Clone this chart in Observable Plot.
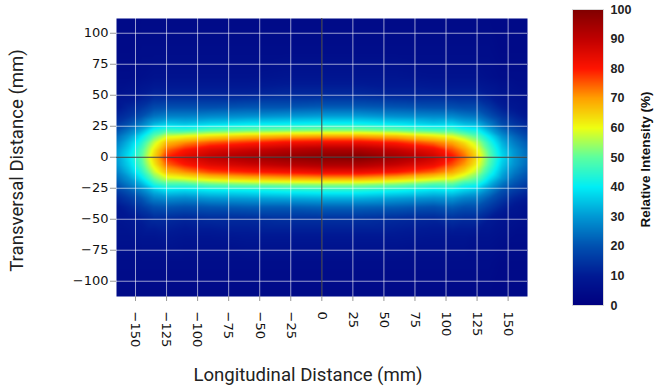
<!DOCTYPE html>
<html><head><meta charset="utf-8">
<script src="https://cdn.jsdelivr.net/npm/d3@7"></script>
<script src="https://cdn.jsdelivr.net/npm/@observablehq/plot@0.6"></script>
<style>
html,body{margin:0;padding:0;background:#fff;}
#wrap{position:relative;width:657px;height:388px;overflow:hidden;}
#main{position:absolute;left:0;top:0;}
#bar{position:absolute;left:540px;top:0;}
</style></head><body>
<div id="wrap"><div id="main"></div><div id="bar"></div></div>
<script>
// Longitudinal sample positions (mm)
const xPositions = [-166, -155, -145, -135, -125, -110, -90, -60, -30, 0, 30, 60, 90, 105, 115, 125, 135, 145, 155, 166];
// Transversal sample positions (mm)
const yPositions = [113, 85, 65, 50, 40, 33, 27, 22, 17, 12, 6, 0, -6, -12, -17, -22, -27, -33, -40, -50, -65, -85, -113];
const intensity = [
  [4,4,4,4,4,4,4,4,4,4,4,4,4,4,4,4,4,4,4,4],
  [4,4,5,5,5,5,5,5,5,5,5,5,5,5,5,5,5,4,4,4],
  [5,5,6,7,7,7,7,7,8,8,8,8,7,7,7,7,6,5,5,5],
  [7,8,10,12,12,12,12,12,13,13,13,12,12,12,12,12,10,8,7,6],
  [9,12,15,19,20,20,20,21,21,22,22,21,20,20,19,19,15,11,9,7],
  [12,15,20,25,27,27,28,29,30,31,31,29,28,28,26,25,20,15,12,9],
  [15,20,26,33,36,35,37,39,40,41,41,39,36,37,34,33,26,19,15,12],
  [19,25,32,42,46,45,48,50,51,52,52,50,47,47,43,41,32,24,19,15],
  [23,30,39,50,58,60,63,66,68,69,69,67,62,59,54,49,39,29,23,18],
  [26,34,44,57,67,71,75,78,81,82,82,79,73,69,63,56,44,33,26,21],
  [29,37,48,62,74,80,85,88,91,93,93,89,83,76,70,61,48,36,29,23],
  [30,39,50,65,79,85,90,94,97,99,100,95,88,81,74,64,50,38,30,24],
  [29,37,48,62,74,80,85,88,91,93,93,89,83,76,70,61,48,36,29,23],
  [26,34,44,57,67,71,76,79,81,83,83,80,74,69,63,56,44,33,26,21],
  [23,30,39,51,58,60,64,67,69,70,70,67,62,60,55,50,39,30,23,19],
  [20,26,33,43,47,47,50,52,53,54,54,52,48,49,44,42,33,25,20,16],
  [16,21,27,34,38,37,39,40,42,43,43,41,38,39,36,34,27,20,16,13],
  [12,16,21,27,29,28,30,31,32,33,33,31,29,30,27,26,21,16,12,10],
  [9,12,16,20,21,20,21,22,22,23,23,22,20,22,20,20,16,12,9,7],
  [8,9,11,13,13,12,13,13,14,14,14,13,12,14,13,13,10,8,7,6],
  [7,7,8,8,9,8,8,9,9,9,9,9,8,8,8,7,7,6,5,5],
  [5,5,5,5,5,5,5,5,5,5,5,5,5,5,5,5,5,4,4,4],
  [4,4,4,4,4,4,4,4,4,4,4,4,4,4,4,4,4,4,4,4]
];
const xTicks = [-150, -125, -100, -75, -50, -25, 0, 25, 50, 75, 100, 125, 150];
const yTicks = [-100, -75, -50, -25, 0, 25, 50, 75, 100];
const barTicks = [0, 10, 20, 30, 40, 50, 60, 70, 80, 90, 100];
const xLabel = "Longitudinal Distance (mm)";
const yLabel = "Transversal Distance (mm)";
const barLabel = "Relative Intensity (%)";

// jet-like colour map as used in the figure
const colorDomain = [0, 10, 20, 30, 40, 50, 60, 70, 80, 90, 100];
const colorRange = ["#000080", "#001a94", "#0050b0", "#0098d4", "#00eef6", "#5cffa0", "#eeff12", "#ffa000", "#ff1400", "#c00000", "#800000"];
const colorScale = {type: "linear", domain: colorDomain, range: colorRange, interpolate: "rgb", clamp: true};

const points = [];
yPositions.forEach((y, i) => xPositions.forEach((x, j) => points.push({x, y, v: intensity[i][j]})));

const xDom = [-165.3, 165.6];
const yDom = [-112.3, 111.9];

const main = Plot.plot({
  width: 540, height: 388,
  marginLeft: 116, marginRight: 13, marginTop: 18, marginBottom: 92,
  style: {fontFamily: "'DejaVu Sans'", fontSize: "13px", color: "#111", background: "transparent"},
  x: {domain: xDom},
  y: {domain: yDom},
  color: colorScale,
  marks: [
    Plot.raster(points, {x: "x", y: "y", fill: "v", interpolate: "barycentric", x1: xDom[0], x2: xDom[1], y1: yDom[0], y2: yDom[1]}),
    Plot.gridX(xTicks, {stroke: "white", strokeOpacity: 0.6, strokeWidth: 1}),
    Plot.gridY(yTicks, {stroke: "white", strokeOpacity: 0.6, strokeWidth: 1}),
    Plot.ruleX([0], {stroke: "black", strokeOpacity: 0.75}),
    Plot.ruleY([0], {stroke: "black", strokeOpacity: 0.75}),
    Plot.axisX(xTicks, {tickRotate: 90, tickSize: 5, tickPadding: 10, label: null, stroke: "#999", fill: "#111"}),
    Plot.axisY(yTicks, {tickSize: 6, tickPadding: 2, label: null, stroke: "#999", fill: "#111"}),
    Plot.text([xLabel], {text: d => d, frameAnchor: "bottom", lineAnchor: "middle", textAnchor: "middle", dx: -14, dy: 79, fontFamily: "Roboto", fontSize: 18.6, fill: "#222"}),
    Plot.text([yLabel], {text: d => d, frameAnchor: "left", lineAnchor: "middle", textAnchor: "middle", rotate: -90, dx: -99, dy: 3, fontFamily: "Roboto", fontSize: 18.6, fill: "#222"})
  ]
});
document.getElementById("main").appendChild(main);

const bar = Plot.plot({
  width: 117, height: 388,
  marginLeft: 32, marginRight: 54, marginTop: 9, marginBottom: 83,
  style: {fontFamily: "'Liberation Sans', Arial, sans-serif", fontSize: "12.5px", fontWeight: "bold", color: "#222", background: "transparent"},
  x: {domain: [0, 1], axis: null},
  y: {domain: [0, 100], axis: null},
  color: colorScale,
  marks: [
    Plot.raster({fill: (x, y) => y, x1: 0, x2: 1, y1: 0, y2: 100}),
    Plot.frame({stroke: "#d8d8d8"}),
    Plot.axisY(barTicks, {anchor: "right", tickSize: 0, tickPadding: 7, label: null, fill: "#222", fontWeight: "bold"}),
    Plot.text([barLabel], {text: d => d, frameAnchor: "right", rotate: -90, dx: 42, dy: 2, textAnchor: "middle", lineAnchor: "middle", fontSize: 13.5, fontWeight: "bold", fill: "#111"})
  ]
});
document.getElementById("bar").appendChild(bar);
</script>
</body></html>
